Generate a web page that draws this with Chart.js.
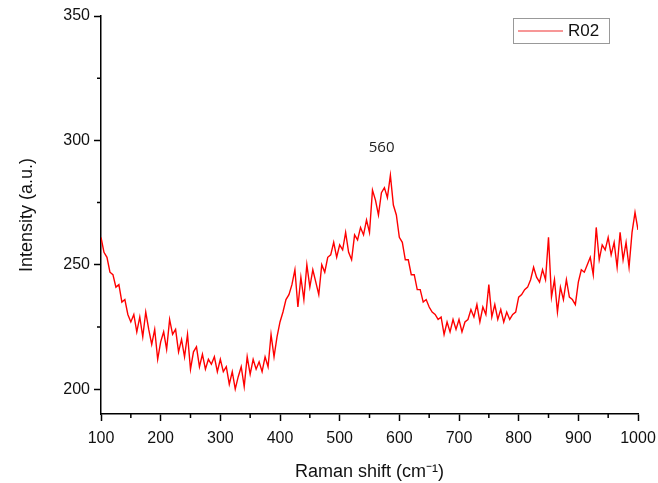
<!DOCTYPE html>
<html>
<head>
<meta charset="utf-8">
<script src="https://cdn.jsdelivr.net/npm/chart.js@4"></script>
<style>
  html, body { margin: 0; padding: 0; background: #fff; }
  #wrap { width: 658px; height: 483px; }
</style>
</head>
<body>
<div id="wrap"><canvas id="raman" width="658" height="483"></canvas></div>
<script>
// Raman shift (cm-1), every 5 units from 100 to 1000
const shift = [];
for (let s = 100; s <= 1000; s += 5) shift.push(s);

// intensity
const intensity = [
  261, 255, 253, 247, 246, 241, 242, 235, 236, 230,
  227, 230, 223, 229, 221, 231, 224, 218, 224, 212,
  219, 223, 216, 228, 222, 224, 215, 220, 213, 222,
  208, 215, 217, 209, 214, 208, 212, 210, 213, 207,
  212, 207, 209, 202, 207, 200, 205, 209, 201, 213,
  206, 212, 208, 211, 207, 213, 209, 222, 213, 221,
  227, 231, 236, 238, 242, 248, 233, 245, 236, 250,
  241, 248, 243, 238, 250, 247, 253, 254, 259, 253,
  258, 256, 263, 255, 252, 262, 260, 265, 262, 268,
  263, 280, 276, 270, 279, 281, 277, 286, 274, 270,
  261, 259, 252, 252, 246, 246, 240, 240, 235, 236,
  233, 231, 230, 228, 229, 222, 227, 223, 228, 224,
  228, 223, 227, 228, 232, 229, 234, 227, 233, 230,
  242, 229, 234, 228, 232, 227, 231, 228, 230, 231,
  237, 238, 240, 241, 244, 249, 245, 243, 248, 244,
  261, 237, 244, 231, 241, 236, 244, 237, 236, 234,
  243, 248, 247, 250, 253, 246, 265, 252, 258, 256,
  261, 254, 259, 249, 263, 252, 259, 249, 263, 271,
  264
];

const seriesName = "R02";
const xTicks = [100, 200, 300, 400, 500, 600, 700, 800, 900, 1000];
const xMinor = [150, 250, 350, 450, 550, 650, 750, 850, 950];
const yTicks = [200, 250, 300, 350];
const yMinor = [225, 275, 325];
const peakLabel = { text: "560", x: 567, y: 297.5 };

const axisFont = "'Liberation Sans', Arial, sans-serif";

const extras = {
  id: "extras",
  afterDraw(chart) {
    const ctx = chart.ctx;
    const xs = chart.scales.x, ys = chart.scales.y;
    const area = chart.chartArea;
    ctx.save();
    // minor ticks
    ctx.strokeStyle = "#000";
    ctx.lineWidth = 1.5;
    ctx.beginPath();
    xMinor.forEach(v => {
      const px = xs.getPixelForValue(v);
      ctx.moveTo(px, area.bottom);
      ctx.lineTo(px, area.bottom + 4);
    });
    yMinor.forEach(v => {
      const py = ys.getPixelForValue(v);
      ctx.moveTo(area.left, py);
      ctx.lineTo(area.left - 4, py);
    });
    ctx.stroke();

    // peak label
    ctx.fillStyle = "#222";
    ctx.font = "15px 'Open Sans', sans-serif";
    ctx.textAlign = "center";
    ctx.textBaseline = "middle";
    ctx.fillText(peakLabel.text, xs.getPixelForValue(peakLabel.x) + 2, ys.getPixelForValue(peakLabel.y) + 1);

    // legend box
    const bx = area.right - 125, by = area.top + 2, bw = 96, bh = 25;
    ctx.strokeStyle = "#999";
    ctx.lineWidth = 1;
    ctx.strokeRect(bx + 0.5, by + 0.5, bw, bh);
    ctx.strokeStyle = "#f03030";
    ctx.lineWidth = 1.2;
    ctx.beginPath();
    ctx.moveTo(bx + 5, by + bh / 2 + 0.5);
    ctx.lineTo(bx + 50, by + bh / 2 + 0.5);
    ctx.stroke();
    ctx.fillStyle = "#111";
    ctx.font = "17px " + axisFont;
    ctx.textAlign = "left";
    ctx.fillText(seriesName, bx + 55, by + bh / 2 + 1);
    ctx.restore();
  }
};

new Chart(document.getElementById("raman"), {
  type: "line",
  data: {
    labels: shift,
    datasets: [{
      label: seriesName,
      data: shift.map((s, i) => ({ x: s, y: intensity[i] })),
      borderColor: "#ff0000",
      borderWidth: 1.4,
      pointRadius: 0,
      tension: 0,
      fill: false
    }]
  },
  options: {
    responsive: false,
    animation: false,
    layout: { padding: { top: 16, right: 20, left: 0, bottom: 0 } },
    plugins: { legend: { display: false }, tooltip: { enabled: false } },
    scales: {
      x: {
        type: "linear",
        min: 100, max: 1000,
        afterBuildTicks: s => { s.ticks = xTicks.map(v => ({ value: v })); },
        afterFit: s => { s.height = 69; s.paddingRight = 0; s.paddingLeft = 0; },
        border: { display: true, color: "#000", width: 1.5 },
        grid: { drawOnChartArea: false, drawTicks: true, tickLength: 7, color: "#000", tickWidth: 1.5 },
        ticks: {
          color: "#111", font: { family: axisFont, size: 16 }, padding: 8, maxRotation: 0,
          callback: v => String(v)
        },
        title: {
          display: true, text: "Raman shift (cm\u207B\u00B9)", color: "#111",
          font: { family: axisFont, size: 18 }, padding: { top: 4, bottom: 0 }
        }
      },
      y: {
        min: 190, max: 350,
        afterBuildTicks: s => { s.ticks = yTicks.map(v => ({ value: v })); },
        afterFit: s => { s.width = 101; s.paddingTop = 0; s.paddingBottom = 0; },
        border: { display: true, color: "#000", width: 1.5 },
        grid: { drawOnChartArea: false, drawTicks: true, tickLength: 7, color: "#000", tickWidth: 1.5 },
        ticks: { color: "#111", font: { family: axisFont, size: 16 }, padding: 4, callback: v => String(v) },
        title: {
          display: true, text: "Intensity (a.u.)", color: "#111",
          font: { family: axisFont, size: 18 }, padding: { top: 16, bottom: 0 }
        }
      }
    }
  },
  plugins: [extras]
});
</script>
</body>
</html>
